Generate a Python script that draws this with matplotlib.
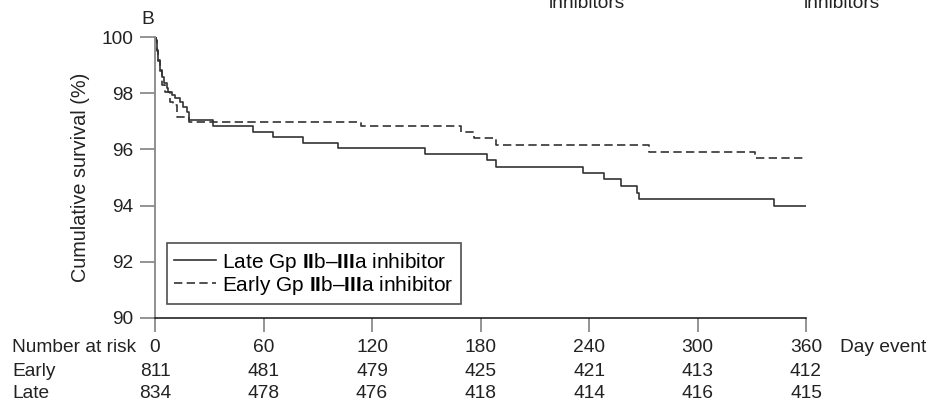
import matplotlib
matplotlib.use("Agg")
import matplotlib.pyplot as plt
import matplotlib.transforms as mtransforms

plt.rcParams['font.family'] = ['Liberation Sans', 'DejaVu Sans']
plt.rcParams['mathtext.fontset'] = 'custom'
plt.rcParams['mathtext.rm'] = 'Liberation Sans'
plt.rcParams['mathtext.bf'] = 'Liberation Sans:bold'

# --- dados (dias, sobrevida %) ---
late_days = [0, 0.55, 1.27, 1.83, 2.77, 4.0, 5.0, 6.5, 7.4, 9.2, 11.1, 13.8, 15.7,
             17.5, 19.0, 31.9, 54, 65.4, 82, 101.4, 149.3, 183.8, 188.4, 236.9,
             248.3, 257.7, 266.4, 267.9, 342.5, 360]
late_surv = [100, 99.89, 99.54, 99.18, 98.83, 98.59, 98.35, 98.17, 98.05, 97.94,
             97.82, 97.70, 97.52, 97.34, 97.05, 96.83, 96.63, 96.43, 96.24, 96.04,
             95.83, 95.61, 95.38, 95.17, 94.94, 94.69, 94.46, 94.23, 94.0, 94.0]

early_days = [0, 0.5, 1.2, 1.8, 2.7, 3.7, 5.5, 8.3, 10.1, 12.0, 19.0, 113.9,
              169.2, 176.6, 188.4, 273.2, 331.9, 359]
early_surv = [100, 99.85, 99.5, 99.15, 98.8, 98.3, 98.05, 97.7, 97.58, 97.16,
              96.99, 96.83, 96.61, 96.42, 96.16, 95.9, 95.69, 95.69]

risk_days = [0, 60, 120, 180, 240, 300, 360]
risk_early = [811, 481, 479, 425, 421, 413, 412]
risk_late = [834, 478, 476, 418, 414, 416, 415]

y_ticks = [90, 92, 94, 96, 98, 100]

late_label = r"Late Gp $\mathbf{II}$b–$\mathbf{III}$a inhibitor"
early_label = r"Early Gp $\mathbf{II}$b–$\mathbf{III}$a inhibitor"

fs = 13.8
txt_col = '#222222'

# --- figura ---
fig = plt.figure(figsize=(9.4, 4.03), dpi=100)
ax = fig.add_axes([155 / 940, 1 - 318 / 403, 651 / 940, 281 / 403])

line_col = '#333333'
ax.step(late_days, late_surv, where='post', color=line_col, lw=1.2,
        label=late_label)
ax.step(early_days, early_surv, where='post', color=line_col, lw=1.2,
        linestyle=(0, (5, 2.6)), label=early_label)

ax.set_xlim(0, 360)
ax.set_ylim(90, 100)
ax.set_yticks(y_ticks)
ax.set_xticks(risk_days)
ax.set_xticklabels([])

for s in ['top', 'right']:
    ax.spines[s].set_visible(False)
ax.spines['left'].set_color('#888888')
ax.spines['left'].set_linewidth(1.3)
ax.spines['bottom'].set_color('#111111')
ax.spines['bottom'].set_linewidth(1.1)

ax.tick_params(axis='y', length=10.5, width=1.1, color='#777777', pad=5,
               labelsize=fs, labelcolor=txt_col)
ax.tick_params(axis='x', length=10, width=1.1, color='#777777')

fig.text(80 / 940, 1 - 177 / 403, 'Cumulative survival (%)', rotation=90,
         ha='center', va='center', fontsize=14.3, color=txt_col)
fig.text(148 / 940, 1 - 19 / 403, 'B', ha='center', va='center',
         fontsize=fs, color=txt_col)

# restos de texto do painel de cima (cortados na borda, como no original)
for xc in [587, 842]:
    fig.text(xc / 940, 1 - 8 / 403, 'inhibitors', ha='center', va='baseline',
             fontsize=fs, color=txt_col)

leg = ax.legend(loc='lower left', bbox_to_anchor=(0.018, 0.05), fontsize=15,
                frameon=True, fancybox=False, handlelength=2.0,
                handletextpad=0.3, borderpad=0.35, labelspacing=0.0,
                borderaxespad=0)
leg.get_frame().set_edgecolor('#222222')
leg.get_frame().set_linewidth(1.2)

# tabela "Number at risk"
trans = mtransforms.blended_transform_factory(ax.transData, fig.transFigure)
rows = [(348, 'Number at risk', risk_days), (372, 'Early', risk_early),
        (393, 'Late', risk_late)]
for ypix, name, vals in rows:
    yf = 1 - ypix / 403
    fig.text(12 / 940, yf, name, ha='left', va='center', fontsize=fs,
             color=txt_col)
    for d, v in zip(risk_days, vals):
        ax.text(d, yf, str(v), transform=trans, ha='center', va='center',
                fontsize=fs, color=txt_col, clip_on=False)
fig.text(840 / 940, 1 - 348 / 403, 'Day event', ha='left', va='center',
         fontsize=fs, color=txt_col)

fig.savefig('out.png', dpi=100)
